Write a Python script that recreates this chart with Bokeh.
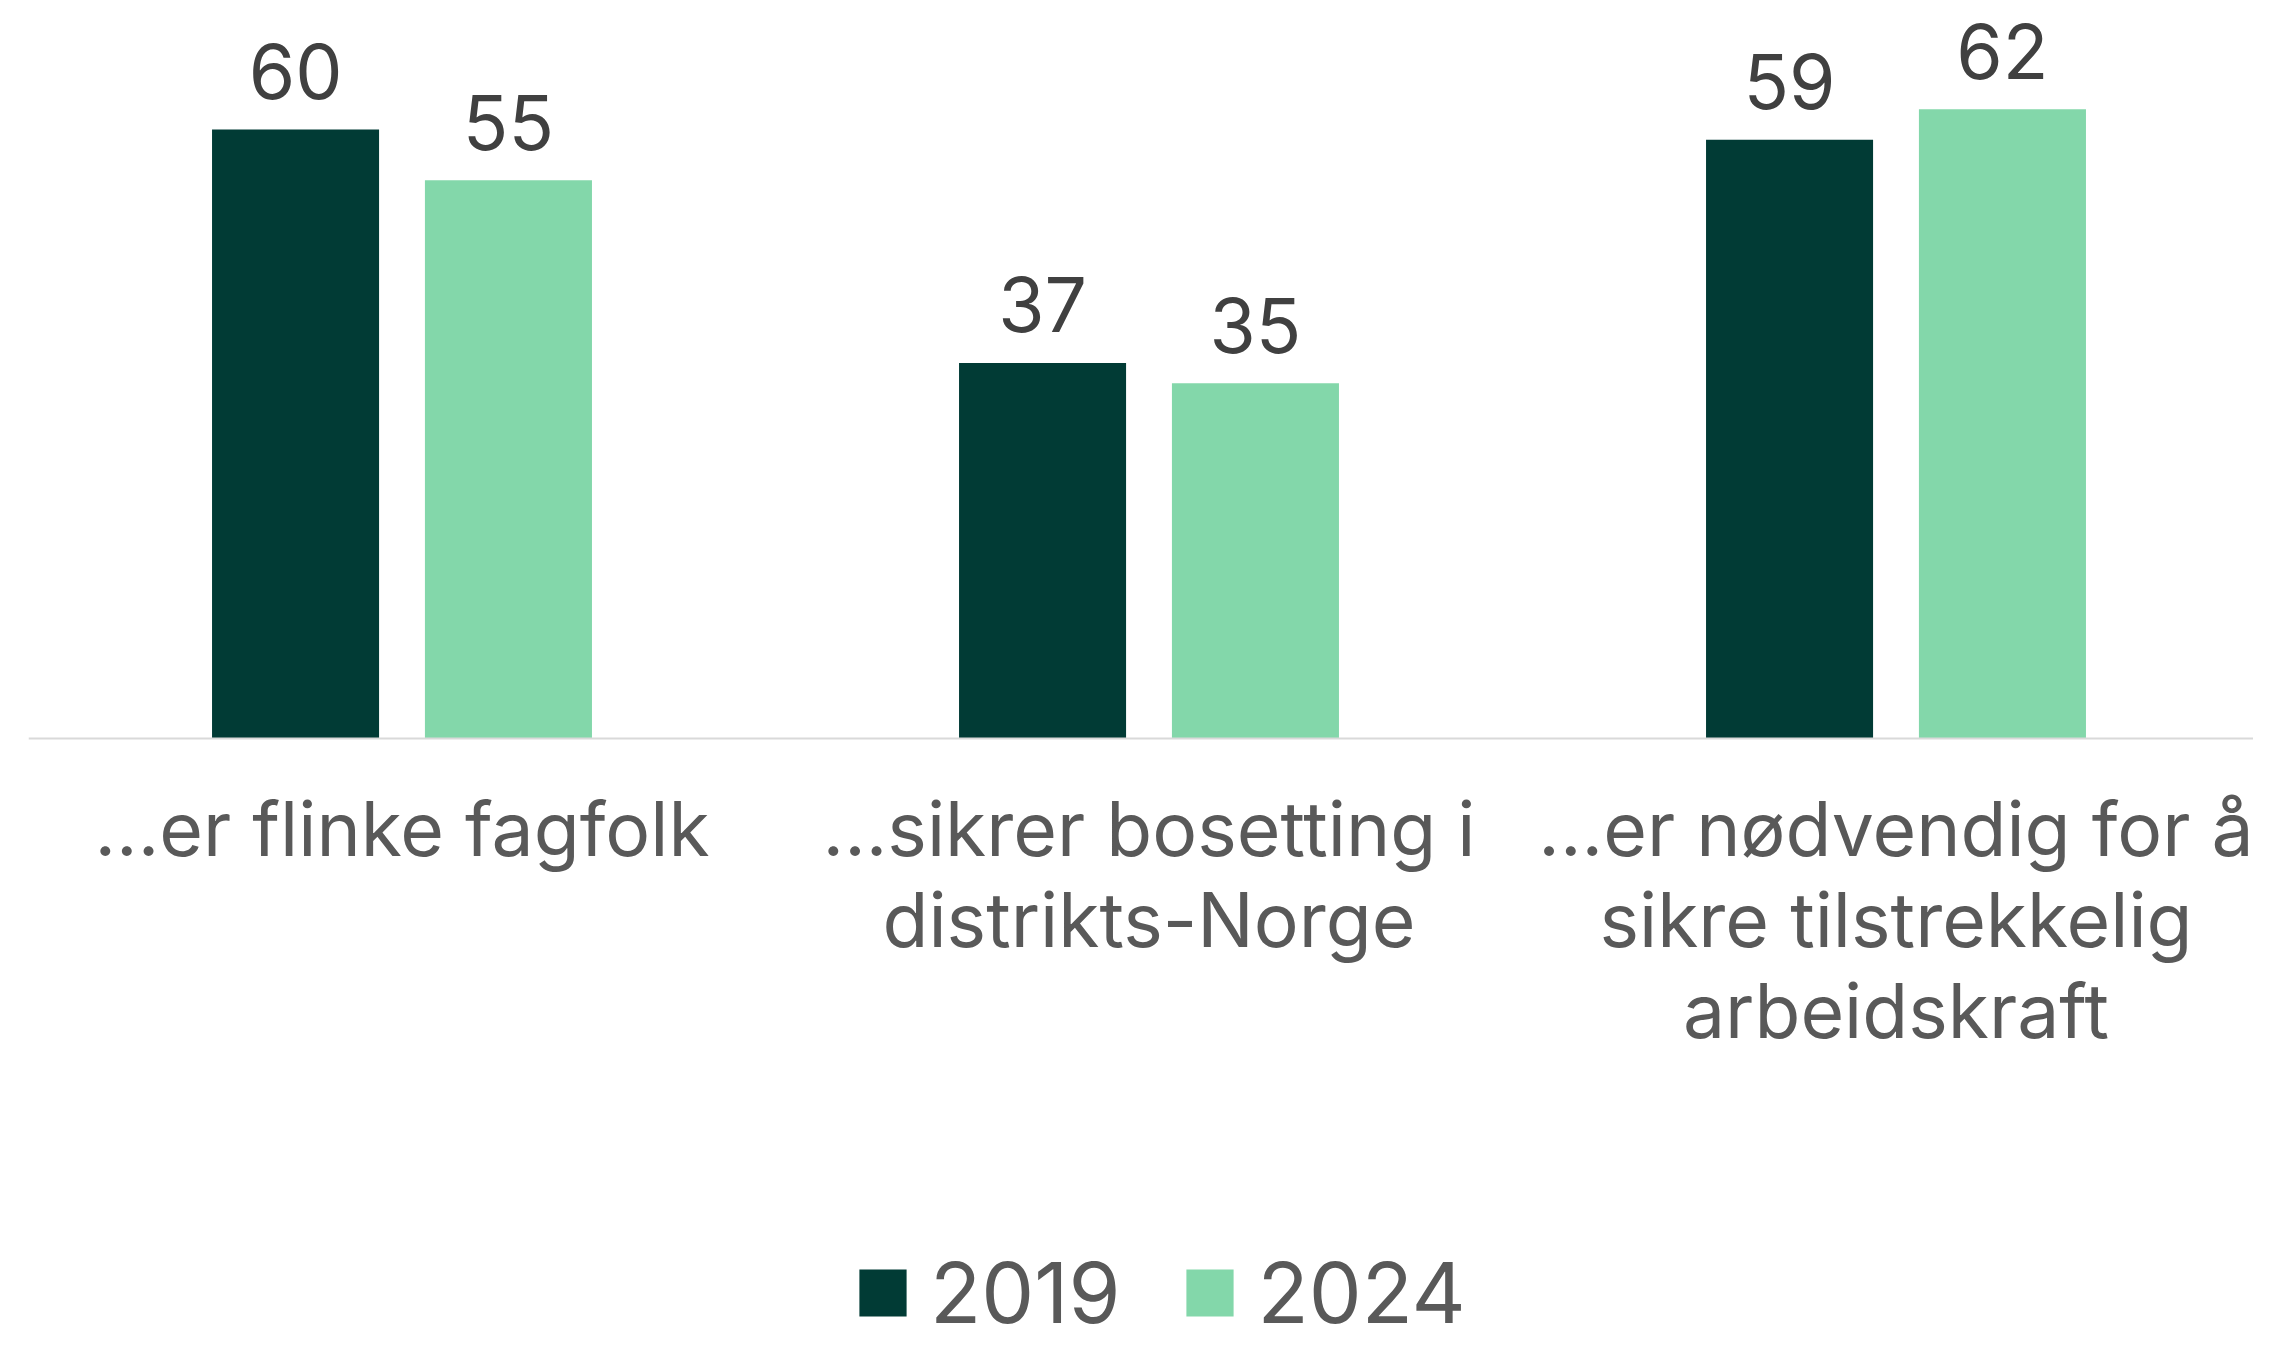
from bokeh.plotting import figure
from bokeh.models import ColumnDataSource, Range1d, Span, Legend, LegendItem
from bokeh.transform import dodge
from bokeh.core.properties import value
from bokeh.embed import file_html
from bokeh.resources import INLINE

# ---- data ----
categories = [
    "...er flinke fagfolk",
    "...sikrer bosetting i\ndistrikts-Norge",
    "...er nødvendig for å\nsikre tilstrekkelig\narbeidskraft",
]
years = ["2019", "2024"]
values_2019 = [60, 37, 59]
values_2024 = [55, 35, 62]

# ---- styles ----
dark = "#013B35"
light = "#83D7AA"
font = "Inter"

W, H = 2253, 1343
left_border = 28
axis_y = 738          # pixel row of the zero line
px_per_unit = 10.15
cat_w = 747

xpos = [i + 0.5 for i in range(len(categories))]
src = ColumnDataSource(dict(
    x=xpos,
    zero=[0] * len(categories),
    cat=categories,
    v2019=values_2019,
    v2024=values_2024,
    t2019=[str(v) for v in values_2019],
    t2024=[str(v) for v in values_2024],
))

p = figure(width=W, height=H, output_backend="svg", toolbar_location=None,
           x_range=Range1d(0, (W - left_border) / cat_w),
           y_range=Range1d(-(H - axis_y) / px_per_unit, axis_y / px_per_unit),
           x_axis_location=None, y_axis_location=None,
           min_border_left=left_border, min_border_right=0,
           min_border_top=0, min_border_bottom=0)
p.outline_line_color = None
p.grid.visible = False
p.background_fill_color = "white"

bw = 0.2236
off = 0.1425
r1 = p.vbar(x=dodge("x", -off, range=p.x_range), top="v2019", width=bw, bottom=0,
            source=src, fill_color=dark, line_color=None)
r2 = p.vbar(x=dodge("x", off, range=p.x_range), top="v2024", width=bw, bottom=0,
            source=src, fill_color=light, line_color=None)

# zero line (category axis line)
p.add_layout(Span(location=0, dimension="width", line_color="#D9D9D9", line_width=2))

# value labels
for col, o in (("2019", -off), ("2024", off)):
    p.text(x=dodge("x", o, range=p.x_range), y="v" + col, text="t" + col, source=src,
           text_font=value(font), text_font_size="75px", text_color="#404040",
           text_align="center", text_baseline="alphabetic", y_offset=-58)

# category labels
p.text(x="x", y="zero", text="cat", source=src,
       text_font=value(font), text_font_size="75px", text_color="#595959",
       text_align="center", text_baseline="top", text_line_height=1.0, y_offset=44)

legend = Legend(items=[LegendItem(label=years[0], renderers=[r1]),
                       LegendItem(label=years[1], renderers=[r2])],
                orientation="horizontal", location=(825, 0),
                glyph_width=59, glyph_height=59, label_standoff=18, spacing=60,
                padding=0, margin=0, border_line_color=None, background_fill_alpha=0,
                label_text_font=font, label_text_font_size="84px",
                label_text_color="#595959")
p.add_layout(legend, "center")

open("out.html", "w").write(file_html(p, INLINE))
